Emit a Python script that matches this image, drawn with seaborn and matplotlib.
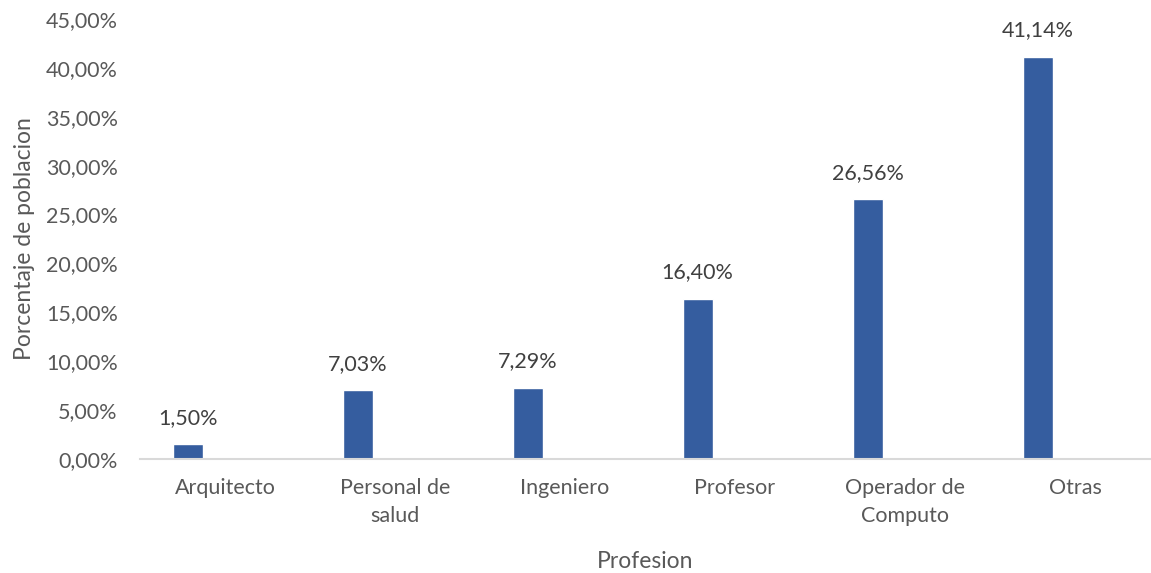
import matplotlib
matplotlib.use("Agg")
import matplotlib.pyplot as plt
import seaborn as sns
import pandas as pd

categories = ["Arquitecto", "Personal de\nsalud", "Ingeniero", "Profesor", "Operador de\nComputo", "Otras"]
values = [1.50, 7.03, 7.29, 16.40, 26.56, 41.14]
yticks = [0, 5, 10, 15, 20, 25, 30, 35, 40, 45]

sns.set_theme(style="white")
plt.rcParams['font.family'] = ['Lato', 'DejaVu Sans']
text_color = "#595959"
label_color = "#404040"
bar_color = "#355D9F"

fig = plt.figure(figsize=(11.51, 5.73), dpi=100)
W, H = 1151, 573
ax = fig.add_axes([140 / W, (H - 459) / H, (1150 - 140) / W, 440 / H])

df = pd.DataFrame({"Profesion": categories, "Porcentaje": values})
sns.barplot(data=df, x="Profesion", y="Porcentaje", color=bar_color, width=0.176,
            saturation=1, ax=ax)
for p in ax.patches:
    p.set_x(p.get_x() - 0.22)

for p, v in zip(ax.patches, values):
    cx = p.get_x() + p.get_width() / 2
    ax.annotate(f"{v:.2f}%".replace(".", ","), (cx, v), xytext=(0, 12),
                textcoords="offset points", ha="center", va="bottom",
                fontsize=15.5, color=label_color)

ax.set_xlim(-0.5, 5.5 - 10 / 170)
ax.set_ylim(0, 45)
ax.set_yticks(yticks)
ax.set_yticklabels([f"{t:.2f}%".replace(".", ",") for t in yticks])
for s in ["top", "right", "left"]:
    ax.spines[s].set_visible(False)
ax.spines["bottom"].set_color("#D9D9D9")
ax.spines["bottom"].set_linewidth(1.5)
ax.tick_params(axis="both", length=0, labelsize=15.5, labelcolor=text_color)
ax.tick_params(axis="y", pad=16)
ax.tick_params(axis="x", pad=14)
for t in ax.get_xticklabels():
    t.set_linespacing(1.45)
ax.set_xlabel("Profesion", fontsize=16.5, color=text_color, labelpad=18)
ax.set_ylabel("Porcentaje de poblacion", fontsize=16.5, color=text_color, labelpad=8)
ax.grid(False)

fig.savefig("out.png", dpi=100)
